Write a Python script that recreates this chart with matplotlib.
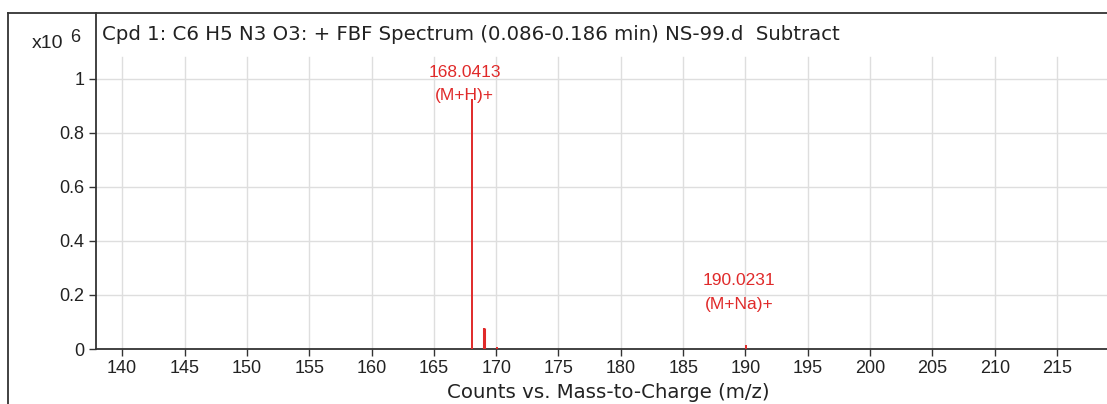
import matplotlib.pyplot as plt
from matplotlib.lines import Line2D
from matplotlib.ticker import FuncFormatter

# Datos del espectro (intensidad en x10^6)
mz = [168.0413, 169.044, 170.045, 190.0231]
intensidad = [0.925, 0.076, 0.009, 0.014]

etiquetas_mz = [168.0413, 190.0231]
etiquetas_int = [0.925, 0.014]
etiquetas_txt = ["168.0413\n(M+H)+", "190.0231\n(M+Na)+"]

x_ticks = list(range(140, 216, 5))
y_ticks = [0, 0.2, 0.4, 0.6, 0.8, 1.0]

titulo = "Cpd 1: C6 H5 N3 O3: + FBF Spectrum (0.086-0.186 min) NS-99.d  Subtract"

plt.rcParams['font.family'] = ['Liberation Sans', 'DejaVu Sans']

W, H = 1107, 404
fig = plt.figure(figsize=(W / 100, H / 100), dpi=100)
ax = fig.add_axes([96 / W, 55 / H, (W - 96) / W, (349 - 13) / H])

rojo = '#e02a2a'
ax.vlines(mz, 0, intensidad, colors=rojo, linewidth=1.4, zorder=3)
ax.vlines(mz[1], 0, intensidad[1], colors=rojo, linewidth=2.2, zorder=3)

# Etiquetas de picos
offsets = [(-5, -3), (-5, 24)]
for x, y, t, off in zip(etiquetas_mz, etiquetas_int, etiquetas_txt, offsets):
    ax.annotate(t, xy=(x, y), xytext=off, textcoords='offset points',
                ha='center', va='bottom', color=rojo, fontsize=12.5,
                linespacing=1.7)

ax.set_xlim(137.9, 219.0)
ax.set_ylim(0, 1.243)

# Rejilla (las verticales no llegan a la zona del título)
tope = (349 - 57) / (349 - 13)
for x in x_ticks:
    ax.axvline(x, ymin=0, ymax=tope, color='#dedede', linewidth=1, zorder=0)
for y in y_ticks[1:]:
    ax.axhline(y, color='#dedede', linewidth=1, zorder=0)

ax.set_xticks(x_ticks)
ax.set_yticks(y_ticks)
ax.yaxis.set_major_formatter(FuncFormatter(lambda v, p: f"{v:g}"))
ax.tick_params(axis='both', direction='out', length=5, width=1, color='#333333',
               labelsize=13, labelcolor='#222222')
ax.tick_params(axis='x', pad=3)

for lado in ['right', 'top']:
    ax.spines[lado].set_visible(False)
for lado in ['left', 'bottom']:
    ax.spines[lado].set_color('#333333')
    ax.spines[lado].set_linewidth(1.3)

ax.set_xlabel("Counts vs. Mass-to-Charge (m/z)", fontsize=14.2, color='#222222',
              family=['DejaVu Sans'])
ax.xaxis.set_label_coords((608 - 96) / (W - 96), -(383 - 349) / (349 - 13))

ax.text(0.006, 1 - 21 / (349 - 13), titulo, transform=ax.transAxes, ha='left', va='center',
        fontsize=14.2, color='#222222', family=['DejaVu Sans'])

fig.text(32 / W, 1 - 43 / H, "x10", ha='left', va='center', fontsize=14, color='#222222')
fig.text(70 / W, 1 - 37 / H, "6", ha='left', va='center', fontsize=13, color='#222222')

# Marco exterior
fig.add_artist(Line2D([8 / W, 8 / W], [0, 1 - 13 / H], color='#333333', linewidth=1.3))
fig.add_artist(Line2D([8 / W, 1.01], [1 - 13 / H, 1 - 13 / H], color='#333333', linewidth=1.3))

fig.savefig("out.png", dpi=100)
